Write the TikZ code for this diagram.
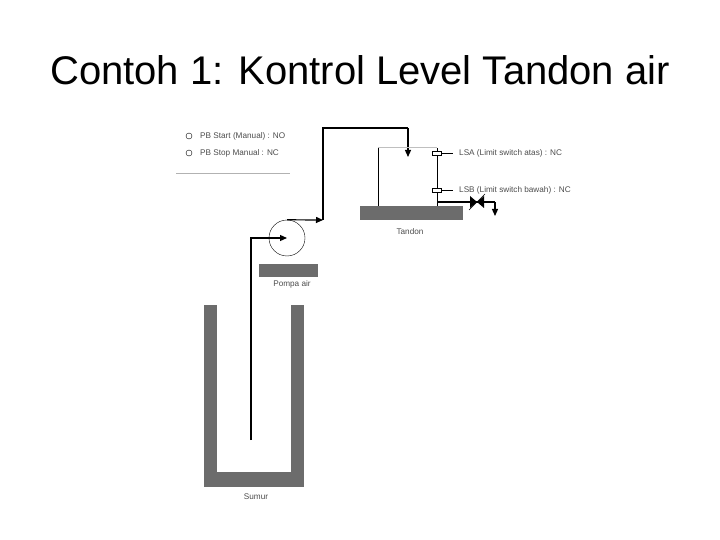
\documentclass[tikz,border=0pt]{standalone}
\usepackage{fontspec}
\setmainfont{Liberation Sans}
\usetikzlibrary{arrows.meta}
\begin{document}
\begin{tikzpicture}[x=1pt,y=-1pt,
  pipe/.style={line width=1.2pt,-{Triangle[length=7pt,width=6pt]}},
  wall/.style={fill=gray!85!black,draw=none},
  lbl/.style={font=\fontsize{8.2}{9}\selectfont,text=black!70,inner sep=0pt}]
\useasboundingbox (0,0) rectangle (720,540);
\node at (360,70) [font=\fontsize{40}{44}\selectfont] (title) {Contoh 1: Kontrol Level Tandon air};
% tombol
\draw (189,136) circle (3);
\draw (189,153) circle (3);
\node at (200,136) [lbl,anchor=west] (pbstart) {PB Start (Manual) : NO};
\node at (200,153) [lbl,anchor=west] (pbstop) {PB Stop Manual : NC};
\draw [gray!60] (176,173) -- (290,173);
% sumur
\fill [wall] (204,305) rectangle (217,487);
\fill [wall] (291,305) rectangle (304,487);
\fill [wall] (204,472) rectangle (304,487);
\node at (256,497) [lbl] (sumur) {Sumur};
% pompa
\node at (287,238) [circle,draw,minimum size=36pt,inner sep=0pt] (pompa) {};
\fill [wall] (259,264) rectangle (318,277);
\node at (292,284) [lbl] (pompalbl) {Pompa air};
\coordinate (inlet) at (251,440);
\draw [pipe] (inlet) |- (pompa.center);
\coordinate (naik) at (323,220);
\draw [pipe] (pompa.north) -- (naik);
\coordinate (atas) at (408,128);
\coordinate (masuk) at (408,157);
\draw [line width=1.2pt] (naik) |- (atas);
\draw [pipe] (atas) -- (masuk);
% tandon
\draw (378,206) -- (378,148);
\draw [gray!50,line width=1pt] (378,148) -- (437,148);
\draw (437,148) -- (437,206);
\fill [wall] (360,206) rectangle (463,220);
\node at (410,232) [lbl] (tandon) {Tandon};
% saklar level
\node at (437,153.5) [draw,fill=white,minimum width=9pt,minimum height=4pt,inner sep=0pt] (lsa) {};
\node at (437,190) [draw,fill=white,minimum width=9pt,minimum height=4pt,inner sep=0pt] (lsb) {};
\node at (459,153) [lbl,anchor=west] (lsalbl) {LSA (Limit switch atas) : NC};
\node at (459,190) [lbl,anchor=west] (lsblbl) {LSB (Limit switch bawah) : NC};
\coordinate (lsaend) at (453,153.5);
\coordinate (lsbend) at (453,190);
\draw (lsa.east) -- (lsaend);
\draw (lsb.east) -- (lsbend);
% keluaran
\coordinate (keluar) at (437,202);
\coordinate (katup) at (477,202);
\draw [line width=1.2pt] (keluar) -- (katup);
\fill (470,196) -- (477,202) -- (470,208) -- cycle;
\fill (484,196) -- (477,202) -- (484,208) -- cycle;
\draw (469,210) -- (485,194);
\coordinate (ujung) at (495,202);
\coordinate (buang) at (495,216);
\draw [line width=1.2pt] (katup) -- (ujung);
\draw [pipe] (ujung) -- (buang);
\end{tikzpicture}
\end{document}
